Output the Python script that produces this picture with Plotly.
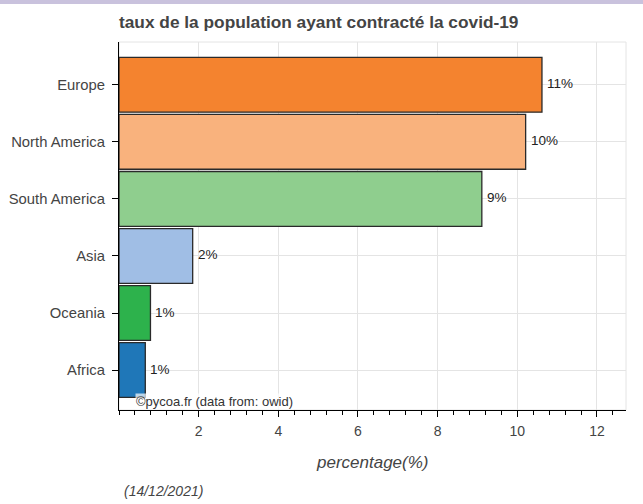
import plotly.graph_objects as go

regions = ["Europe", "North America", "South America", "Asia", "Oceania", "Africa"]
values = [10.62, 10.21, 9.11, 1.85, 0.79, 0.66]
labels = ["11%", "10%", "9%", "2%", "1%", "1%"]
colors = ["#f4832f", "#f9b27d", "#8fce8e", "#a0bee5", "#2db24c", "#1f77b8"]
x_ticks = [2, 4, 6, 8, 10, 12]

FONT = "Liberation Sans, Arial, Helvetica"

fig = go.Figure()
fig.add_trace(go.Bar(
    y=regions, x=values, orientation="h",
    marker=dict(color=colors, line=dict(color="#2a2a2a", width=1.3)),
    width=0.96,
    hoverinfo="skip",
))

for r, v, t in zip(regions, values, labels):
    fig.add_annotation(x=v, y=r, text=t, xref="x", yref="y",
                       xanchor="left", yanchor="middle", xshift=3, yshift=1,
                       showarrow=False,
                       font=dict(family=FONT, size=13.5, color="#222"))

fig.update_layout(
    width=643, height=504,
    margin=dict(l=119, r=17, t=42, b=94),
    paper_bgcolor="white", plot_bgcolor="white",
    showlegend=False,
    font=dict(family=FONT, color="#444"),
    title=dict(text="<b>taux de la population ayant contracté la covid-19</b>",
               x=119/643, xanchor="left", xref="container",
               y=1-22/504, yanchor="middle", yref="container",
               font=dict(size=17.3, color="#444")),
)

fig.update_xaxes(
    range=[0, 12.73], tickvals=x_ticks, ticktext=[str(v) for v in x_ticks],
    showgrid=True, gridcolor="#e4e4e4", gridwidth=1,
    showline=True, linecolor="black", linewidth=1.2,
    ticks="outside", ticklen=6, tickcolor="black", tickwidth=1.2,
    tickfont=dict(size=14, color="#444"), ticklabelstandoff=2,
    minor=dict(dtick=0.4, tick0=0, ticks="outside", ticklen=4, tickcolor="black", showgrid=False),
    zeroline=False, automargin=False,
)
fig.update_yaxes(
    categoryorder="array", categoryarray=regions[::-1],
    range=[-0.7, 5.75],
    showgrid=True, gridcolor="#e4e4e4", gridwidth=1,
    showline=True, linecolor="black", linewidth=1.2,
    ticks="outside", ticklen=6, tickcolor="black", tickwidth=1.2,
    tickfont=dict(size=14.8, color="#444"), ticklabelstandoff=4,
    zeroline=False, automargin=False,
)

# plot outline (light gray) and top strip
fig.add_shape(type="rect", xref="paper", yref="paper", x0=0, x1=1, y0=0, y1=1,
              line=dict(color="#e4e4e4", width=1), layer="below")
fig.add_shape(type="rect", xref="paper", yref="paper",
              x0=-119/507, x1=1+17/507, y0=1+38/368, y1=1+43/368,
              line=dict(width=0), fillcolor="#c9c2dd")

fig.add_annotation(text="©pycoa.fr (data from: owid)", xref="paper", yref="paper",
                   x=(135-119)/507, y=(410-401)/368, xanchor="left", yanchor="middle",
                   showarrow=False, bgcolor="rgba(255,255,255,0.7)",
                   font=dict(size=13, color="#333"), borderpad=0)
fig.add_annotation(text="<i>percentage(%)</i>", xref="paper", yref="paper",
                   x=0.5, y=(410-462)/368, xanchor="center", yanchor="middle",
                   showarrow=False, font=dict(size=17, color="#444"))
fig.add_annotation(text="<i>(14/12/2021)</i>", xref="paper", yref="paper",
                   x=(122-119)/507, y=(410-491)/368, xanchor="left", yanchor="middle",
                   showarrow=False, font=dict(size=14, color="#444"))

fig.write_html("out.html", config={"displayModeBar": False},
               post_script="document.body.style.margin='0';document.body.style.overflow='hidden';")
